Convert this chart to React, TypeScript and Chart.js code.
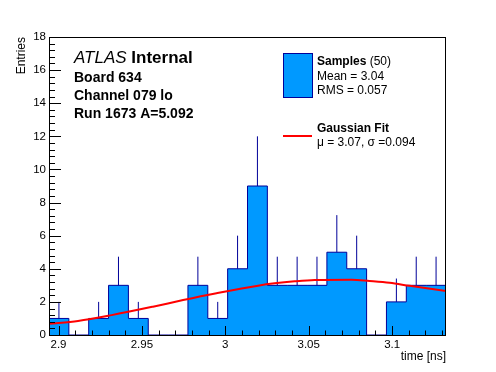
import React, { useEffect, useRef } from "react";
import { Chart, registerables } from "chart.js";

Chart.register(...registerables);

// ---- data ----
const binEdges = [
  2.8943, 2.9062, 2.9181, 2.93, 2.9419, 2.9538, 2.9657, 2.9776, 2.9895, 3.0014,
  3.0133, 3.0252, 3.0371, 3.049, 3.0609, 3.0728, 3.0847, 3.0966, 3.1085, 3.1204,
  3.1323,
];
const counts = [1, 0, 1, 3, 1, 0, 0, 3, 1, 4, 9, 3, 3, 3, 5, 4, 0, 2, 3, 3];
const errors = [1, 0, 1, 1.73, 1, 0, 0, 1.73, 1, 2, 3, 1.73, 1.73, 1.73, 2.24, 2, 0, 1.41, 1.73, 1.73];

const fitX = [2.8943, 2.9117, 2.9318, 2.9566, 2.9747, 2.9947, 3.0196, 3.0296, 3.0416, 3.0536, 3.0756, 3.0865, 3.0985, 3.1105, 3.1323];
const fitY = [0.68, 0.85, 1.2, 1.71, 2.11, 2.52, 2.98, 3.12, 3.24, 3.32, 3.34, 3.26, 3.15, 2.97, 2.66];

const xTickValues = [2.9, 2.95, 3, 3.05, 3.1];
const xTickLabels = ["2.9", "2.95", "3", "3.05", "3.1"];
const yTickValues = [0, 2, 4, 6, 8, 10, 12, 14, 16, 18];

const X_MIN = 2.8943;
const X_MAX = 3.1323;
const Y_MIN = 0;
const Y_MAX = 18;

const atlasWord = "ATLAS";
const atlasTag = "Internal";
const headerLines = ["Board 634", "Channel 079 lo", "Run 1673 A=5.092"];
const legendSamplesTitle = "Samples";
const legendSamplesCount = "(50)";
const legendSamplesStats = ["Mean = 3.04", "RMS = 0.057"];
const legendFitTitle = "Gaussian Fit";
const legendFitStats = "\u03bc = 3.07, \u03c3 =0.094";
const xTitle = "time [ns]";
const yTitle = "Entries";

// ---- styles ----
const FONT = '"Liberation Sans", Arial, Helvetica, sans-serif';
const FILL = "#0099ff";
const EDGE = "#000099";
const FIT = "#ff0000";

const overlayPlugin = {
  id: "rootStyle",
  afterDatasetsDraw(chart: any) {
    const ctx = chart.ctx;
    const { left, right, top, bottom } = chart.chartArea;
    const xs = chart.scales.x;
    const ys = chart.scales.y;
    ctx.save();
    ctx.strokeStyle = "#000";
    ctx.lineWidth = 1;
    // frame
    ctx.strokeRect(Math.round(left) + 0.5, Math.round(top) + 0.5, Math.round(right - left) - 1, Math.round(bottom - top));
    // x ticks (inside)
    ctx.beginPath();
    const xStep = 0.01;
    for (let k = Math.ceil(xs.min / xStep - 1e-6); k * xStep <= xs.max + 1e-9; k++) {
      const v = k * xStep;
      const px = Math.round(xs.getPixelForValue(v)) + 0.5;
      const major = Math.abs(v / 0.05 - Math.round(v / 0.05)) < 1e-6;
      const len = major ? 9 : 4.5;
      ctx.moveTo(px, bottom);
      ctx.lineTo(px, bottom - len);
    }
    // y ticks (inside)
    const yStep = 0.4;
    for (let k = 0; k * yStep <= ys.max + 1e-9; k++) {
      const v = k * yStep;
      const py = Math.round(ys.getPixelForValue(v)) + 0.5;
      const major = k % 5 === 0;
      const len = major ? 12 : 6;
      ctx.moveTo(left, py);
      ctx.lineTo(left + len, py);
    }
    ctx.stroke();
    ctx.restore();
  },
  afterDraw(chart: any) {
    const ctx = chart.ctx;
    const { right, top } = chart.chartArea;
    ctx.save();
    ctx.fillStyle = "#000";
    ctx.textBaseline = "alphabetic";
    ctx.textAlign = "left";
    // ATLAS label
    ctx.font = `italic 17px ${FONT}`;
    ctx.fillText(atlasWord, 74, 63);
    const w = ctx.measureText(atlasWord + " ").width;
    ctx.font = `bold 17px ${FONT}`;
    ctx.fillText(atlasTag, 74 + w, 63);
    ctx.font = `bold 14px ${FONT}`;
    headerLines.forEach((t, i) => ctx.fillText(t, 74, 81.7 + i * 18.3));

    // legend: samples
    ctx.fillStyle = FILL;
    ctx.fillRect(283, 53, 29, 44);
    ctx.strokeStyle = EDGE;
    ctx.lineWidth = 1;
    ctx.strokeRect(283.5, 53.5, 29, 44);
    ctx.fillStyle = "#000";
    ctx.font = `bold 12px ${FONT}`;
    ctx.fillText(legendSamplesTitle, 317, 65);
    const sw = ctx.measureText(legendSamplesTitle).width;
    ctx.font = `12px ${FONT}`;
    ctx.fillText(" " + legendSamplesCount, 317 + sw, 65);
    legendSamplesStats.forEach((t, i) => ctx.fillText(t, 317, 80 + i * 14));

    // legend: fit
    ctx.strokeStyle = FIT;
    ctx.lineWidth = 2;
    ctx.beginPath();
    ctx.moveTo(283, 136);
    ctx.lineTo(312, 136);
    ctx.stroke();
    ctx.font = `bold 12px ${FONT}`;
    ctx.fillText(legendFitTitle, 317, 132.3);
    ctx.font = `12px ${FONT}`;
    ctx.fillText(legendFitStats, 317, 145.7);

    // axis titles
    ctx.font = `12px ${FONT}`;
    ctx.textAlign = "right";
    ctx.fillText(xTitle, right, 360);
    ctx.save();
    ctx.translate(24.5, top);
    ctx.rotate(-Math.PI / 2);
    ctx.textAlign = "right";
    ctx.fillText(yTitle, 0, 0);
    ctx.restore();
    ctx.restore();
  },
};

export default function App() {
  const canvasRef = useRef<HTMLCanvasElement | null>(null);

  useEffect(() => {
    const canvas = canvasRef.current;
    if (!canvas) return;

    const histPoints: { x: number; y: number }[] = [{ x: binEdges[0], y: 0 }];
    counts.forEach((c, i) => histPoints.push({ x: binEdges[i], y: c }));
    histPoints.push({ x: binEdges[binEdges.length - 1], y: counts[counts.length - 1] });
    histPoints.push({ x: binEdges[binEdges.length - 1], y: 0 });

    const errPoints: { x: number; y: number | null }[] = [];
    counts.forEach((c, i) => {
      if (c <= 0) return;
      const cx = (binEdges[i] + binEdges[i + 1]) / 2;
      errPoints.push({ x: cx, y: c });
      errPoints.push({ x: cx, y: c + errors[i] });
      errPoints.push({ x: cx, y: null });
    });

    const fitPoints = fitX.map((x, i) => ({ x, y: fitY[i] }));

    const tickFont = { family: FONT, size: 11.5 };

    const chart = new Chart(canvas, {
      type: "line",
      data: {
        datasets: [
          {
            label: "fit",
            data: fitPoints,
            borderColor: FIT,
            borderWidth: 2,
            pointRadius: 0,
            fill: false,
            cubicInterpolationMode: "monotone",
            order: 0,
          },
          {
            label: "errors",
            data: errPoints as any,
            borderColor: EDGE,
            borderWidth: 1,
            pointRadius: 0,
            fill: false,
            spanGaps: false,
            order: 1,
          },
          {
            label: "Samples",
            data: histPoints,
            borderColor: EDGE,
            backgroundColor: FILL,
            borderWidth: 1,
            pointRadius: 0,
            stepped: "before",
            fill: "origin",
            order: 2,
          },
        ],
      },
      options: {
        animation: false,
        responsive: false,
        maintainAspectRatio: false,
        layout: { padding: { left: 0, top: 37, right: 50, bottom: 0 } },
        plugins: {
          legend: { display: false },
          tooltip: { enabled: false },
          title: { display: false },
        },
        scales: {
          x: {
            type: "linear",
            min: X_MIN,
            max: X_MAX,
            grid: { display: false, drawTicks: false },
            border: { display: false },
            ticks: {
              font: tickFont,
              color: "#000",
              padding: 3,
              autoSkip: false,
              maxRotation: 0,
              callback: (v: any) => {
                const idx = xTickValues.findIndex((t) => Math.abs(t - Number(v)) < 1e-9);
                return idx >= 0 ? xTickLabels[idx] : "";
              },
            },
            afterBuildTicks: (s: any) => {
              s.ticks = xTickValues.map((v) => ({ value: v }));
            },
            afterFit: (s: any) => {
              s.height = 37;
            },
          },
          y: {
            type: "linear",
            min: Y_MIN,
            max: Y_MAX,
            grid: { display: false, drawTicks: false },
            border: { display: false },
            ticks: { font: tickFont, color: "#000", padding: 3 },
            afterBuildTicks: (s: any) => {
              s.ticks = yTickValues.map((v) => ({ value: v }));
            },
            afterFit: (s: any) => {
              s.width = 49;
            },
          },
        },
      },
      plugins: [overlayPlugin],
    });

    return () => chart.destroy();
  }, []);

  return (
    <div style={{ position: "fixed", left: 0, top: 0, width: 496, height: 372, background: "#fff" }}>
      <canvas ref={canvasRef} width={496} height={372} />
    </div>
  );
}
